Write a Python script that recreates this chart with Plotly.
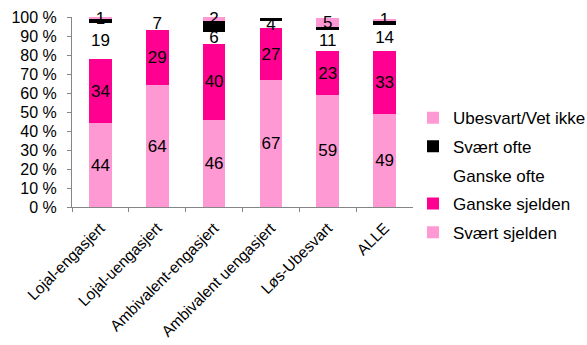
import plotly.graph_objects as go

categories = ["Lojal-engasjert", "Lojal-uengasjert", "Ambivalent-engasjert",
              "Ambivalent uengasjert", "Løs-Ubesvart", "ALLE"]

svaert_sjelden = [44, 64, 46, 67, 59, 49]
ganske_sjelden = [34, 29, 40, 27, 23, 33]
ganske_ofte = [19, 7, 6, 4, 11, 14]
svaert_ofte = [2, 0.6, 6, 1.5, 1.5, 2]
ubesvart = [1, 0, 2, 0, 5, 1]

series = [
    ("Svært sjelden", svaert_sjelden, "#FF99D3", True),
    ("Ganske sjelden", ganske_sjelden, "#FF0090", True),
    ("Ganske ofte", ganske_ofte, "#FFFFFF", True),
    ("Svært ofte", svaert_ofte, "#000000", False),
    ("Ubesvart/Vet ikke", ubesvart, "#FF99D3", True),
]

FONT = "Liberation Sans, Arial, sans-serif"

fig = go.Figure()
for i, (name, vals, color, labelled) in enumerate(series):
    if labelled:
        text = [str(v) if v > 0 else "" for v in vals]
    else:
        text = ["" for _ in vals]
    fig.add_trace(go.Bar(
        name=name, x=categories, y=vals, marker_color=color,
        marker_line_width=0,
        text=text, textposition="inside", insidetextanchor="middle",
        textangle=0, cliponaxis=False,
        textfont=dict(family=FONT, size=17, color="#000000"),
        legendgroup=f"g{i}",
        legendrank=1000 - 10 * i,  # top segment listed first
        hoverinfo="skip",
    ))

fig.update_layout(
    barmode="stack",
    bargap=0.6,
    width=587, height=345,
    margin=dict(l=72, r=174, t=17, b=138, autoexpand=False),
    plot_bgcolor="white", paper_bgcolor="white",
    font=dict(family=FONT, size=16, color="#000000"),
    uniformtext=dict(mode="show", minsize=17),
    legend=dict(
        x=1.0, y=0.562, xanchor="left", yanchor="top",
        traceorder="grouped", tracegroupgap=3.5,
        font=dict(family=FONT, size=17),
        itemwidth=30,
    ),
    showlegend=True,
)

fig.update_yaxes(
    range=[0, 100], tickvals=list(range(0, 101, 10)),
    ticktext=[f"{v} %" for v in range(0, 101, 10)],
    showgrid=False, showline=True, linecolor="#868686", linewidth=1,
    ticks="outside", ticklen=4, tickcolor="#868686",
    ticklabelstandoff=7,
    tickfont=dict(family=FONT, size=16), zeroline=False,
)
fig.update_xaxes(
    tickangle=-45, showline=True, linecolor="#868686", linewidth=1,
    ticks="outside", ticklen=4, tickcolor="#868686", tickson="boundaries",
    ticklabelstandoff=5,
    tickfont=dict(family=FONT, size=15.5), showgrid=False,
)

fig.write_html("out.html")
